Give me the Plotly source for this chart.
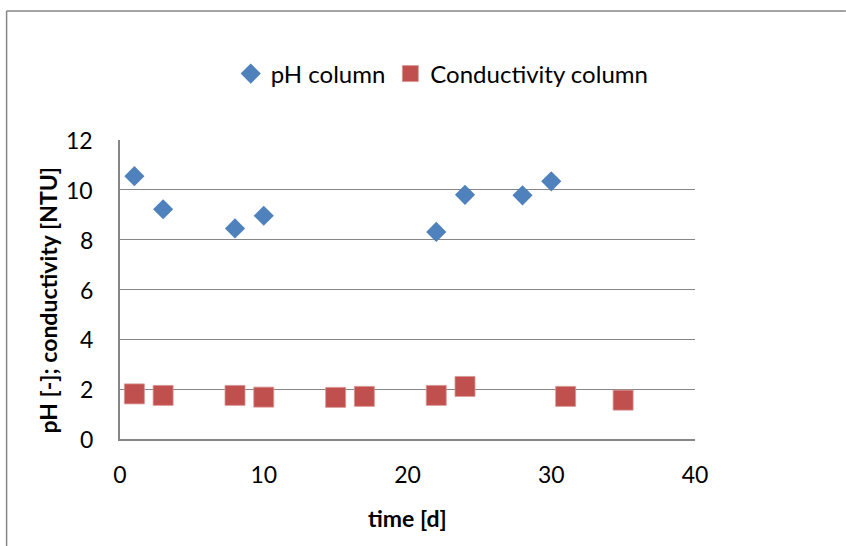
import plotly.graph_objects as go

ph_time = [1, 3, 8, 10, 22, 24, 28, 30]
ph_vals = [10.55, 9.22, 8.45, 8.96, 8.31, 9.80, 9.78, 10.34]
cond_time = [1, 3, 8, 10, 15, 17, 22, 24, 31, 35]
cond_vals = [1.81, 1.75, 1.75, 1.68, 1.67, 1.71, 1.75, 2.11, 1.71, 1.56]
y_ticks = [0, 2, 4, 6, 8, 10, 12]
x_ticks = [0, 10, 20, 30, 40]

W, H = 846, 546
L, R, T, B = 119.5, 151, 140, 107
pw, ph = W - L - R, H - T - B
FONT = "Lato"

fig = go.Figure()
fig.add_trace(go.Scatter(x=ph_time, y=ph_vals, mode="markers", name="pH column",
                         marker=dict(symbol="diamond", size=15.5, color="#4F81BD",
                                     line=dict(width=0))))
fig.add_trace(go.Scatter(x=cond_time, y=cond_vals, mode="markers", name="Conductivity column",
                         marker=dict(symbol="square", size=20, color="#C0504D",
                                     line=dict(width=0.8, color="#D99694"))))

axis_col = "#868686"
px = lambda v: (v - L) / pw
py = lambda v: (H - B - v) / ph

annotations = [
    dict(text=str(v), xref="paper", yref="y", x=px(94), y=v, xanchor="right",
         yanchor="middle", showarrow=False, font=dict(size=23))
    for v in y_ticks
]
annotations += [
    dict(text="<b>time [d]</b>", xref="paper", yref="paper", x=px(407), y=py(518),
         xanchor="center", yanchor="middle", showarrow=False, font=dict(size=23)),
    dict(text="<b>pH [-]; conductivity [NTU]</b>", xref="paper", yref="paper",
         x=px(47), y=py(300), xanchor="center", yanchor="middle", textangle=-90,
         showarrow=False, font=dict(size=23)),
]

fig.update_layout(
    width=W, height=H,
    margin=dict(l=L, r=R, t=T, b=B, pad=0),
    paper_bgcolor="white", plot_bgcolor="white",
    font=dict(family=FONT, size=23, color="black"),
    showlegend=True,
    legend=dict(orientation="h", x=px(442), xanchor="center",
                y=py(74), yanchor="middle",
                font=dict(size=24), itemwidth=30, tracegroupgap=0,
                bgcolor="rgba(0,0,0,0)"),
    xaxis=dict(range=[0, 40], tickvals=x_ticks, showgrid=False, zeroline=False,
               showline=True, linecolor=axis_col, linewidth=1.5, ticks="",
               ticklabelstandoff=15),
    yaxis=dict(range=[0, 12], tickvals=y_ticks, showgrid=True, gridcolor=axis_col, gridwidth=1.3,
               zeroline=False, showline=True, linecolor=axis_col, linewidth=1.5,
               ticks="", showticklabels=False),
    annotations=annotations,
    shapes=[
        dict(type="line", xref="paper", yref="paper", x0=px(6), x1=px(W), y0=py(11), y1=py(11),
             line=dict(color=axis_col, width=1.5), layer="below"),
        dict(type="line", xref="paper", yref="paper", x0=px(6), x1=px(6), y0=py(11), y1=py(H),
             line=dict(color=axis_col, width=1.5), layer="below"),
    ],
)

fig.write_html("out.html")
